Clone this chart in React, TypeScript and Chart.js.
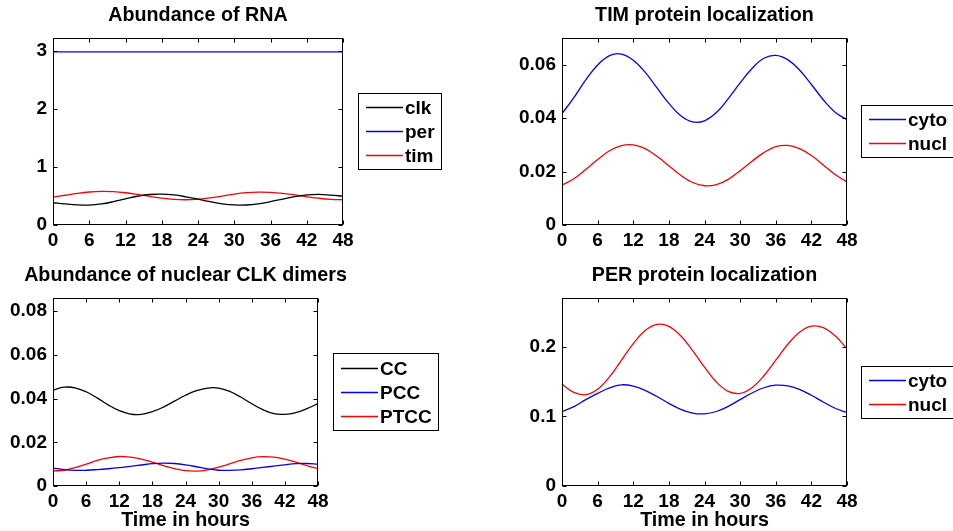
import React, { useEffect, useRef } from 'react';
import { Chart, registerables } from 'chart.js';

Chart.register(...registerables);

// ---------- data ----------
const hours = [0, 2, 4, 6, 8, 10, 12, 14, 16, 18, 20, 22, 24, 26, 28, 30, 32, 34, 36, 38, 40, 42, 44, 46, 48];
const xTicks = [0, 6, 12, 18, 24, 30, 36, 42, 48];

const rnaClk = [0.383, 0.362, 0.346, 0.343, 0.363, 0.402, 0.451, 0.495, 0.525, 0.531, 0.517, 0.485, 0.444, 0.401, 0.365, 0.345, 0.344, 0.365, 0.402, 0.447, 0.489, 0.518, 0.527, 0.515, 0.497];
const rnaPer = [2.98, 2.98, 2.98, 2.98, 2.98, 2.98, 2.98, 2.98, 2.98, 2.98, 2.98, 2.98, 2.98, 2.98, 2.98, 2.98, 2.98, 2.98, 2.98, 2.98, 2.98, 2.98, 2.98, 2.98, 2.98];
const rnaTim = [0.480, 0.512, 0.544, 0.568, 0.579, 0.574, 0.555, 0.526, 0.493, 0.463, 0.442, 0.435, 0.444, 0.468, 0.499, 0.532, 0.556, 0.567, 0.562, 0.545, 0.518, 0.488, 0.461, 0.442, 0.435];
const rnaYTicks = [0, 1, 2, 3];
const rnaYLabels = ['0', '1', '2', '3'];

const timCyto = [0.0417, 0.0477, 0.0543, 0.0599, 0.0634, 0.0640, 0.0617, 0.0572, 0.0513, 0.0455, 0.0409, 0.0386, 0.0390, 0.0421, 0.0473, 0.0532, 0.0586, 0.0624, 0.0635, 0.0619, 0.0580, 0.0526, 0.0469, 0.0422, 0.0394];
const timNucl = [0.0149, 0.0173, 0.0208, 0.0245, 0.0278, 0.0297, 0.0300, 0.0286, 0.0257, 0.0222, 0.0186, 0.0159, 0.0147, 0.0151, 0.0171, 0.0203, 0.0239, 0.0271, 0.0293, 0.0298, 0.0286, 0.0260, 0.0225, 0.0189, 0.0161];
const timYTicks = [0, 0.02, 0.04, 0.06];
const timYLabels = ['0', '0.02', '0.04', '0.06'];

const dimCC = [0.0438, 0.0452, 0.0449, 0.0431, 0.0403, 0.0371, 0.0345, 0.0329, 0.0328, 0.0340, 0.0361, 0.0388, 0.0415, 0.0436, 0.0448, 0.0448, 0.0433, 0.0407, 0.0376, 0.0349, 0.0331, 0.0328, 0.0336, 0.0354, 0.0377];
const dimPCC = [0.0082, 0.0075, 0.00715, 0.0072, 0.0075, 0.0079, 0.0084, 0.0090, 0.0096, 0.0102, 0.0105, 0.0103, 0.0097, 0.0088, 0.0078, 0.0072, 0.00715, 0.0074, 0.0079, 0.0085, 0.0091, 0.0097, 0.0102, 0.0103, 0.0100];
const dimPTCC = [0.0069, 0.0072, 0.0084, 0.0100, 0.0117, 0.0129, 0.0135, 0.0132, 0.0123, 0.0109, 0.0093, 0.0079, 0.0070, 0.0068, 0.0074, 0.0086, 0.0101, 0.0117, 0.0129, 0.0134, 0.0132, 0.0123, 0.0109, 0.0093, 0.0079];
const dimYTicks = [0, 0.02, 0.04, 0.06, 0.08];
const dimYLabels = ['0', '0.02', '0.04', '0.06', '0.08'];

const perCyto = [0.107, 0.114, 0.124, 0.133, 0.141, 0.1453, 0.1435, 0.1374, 0.1285, 0.1187, 0.1101, 0.1047, 0.1036, 0.1070, 0.1144, 0.1240, 0.1336, 0.1411, 0.1448, 0.1439, 0.1387, 0.1303, 0.1206, 0.1117, 0.1055];
const perNucl = [0.1463, 0.1344, 0.1311, 0.1389, 0.1567, 0.1805, 0.2045, 0.2232, 0.2321, 0.2293, 0.2157, 0.1945, 0.1706, 0.1494, 0.1359, 0.1330, 0.1411, 0.1583, 0.1807, 0.2032, 0.2208, 0.2295, 0.2275, 0.2157, 0.1970];
const perYTicks = [0, 0.1, 0.2];
const perYLabels = ['0', '0.1', '0.2'];

// ---------- layout / style ----------
const W = 953;
const H = 531;
const Y_W = 50;
const X_H = 30;
const FONT = "'Liberation Sans', Arial, Helvetica, sans-serif";
const FONT_SIZE = 19;
const TITLE_SIZE = 19.7;
const BLACK = '#000000';
const BLUE = '#0000ff';
const RED = '#ff0000';

const matlabPlugin = {
  id: 'matlabAxes',
  afterDraw(chart: any) {
    const spec = chart.$spec;
    if (!spec) return;
    const { ctx, chartArea: a, scales } = chart;
    const line = (x1: number, y1: number, x2: number, y2: number) => {
      ctx.beginPath();
      ctx.moveTo(x1, y1);
      ctx.lineTo(x2, y2);
      ctx.stroke();
    };
    ctx.save();
    ctx.strokeStyle = '#000000';
    ctx.lineWidth = 1;
    const L = Math.round(a.left) + 0.5;
    const R = Math.round(a.right) - 0.5;
    const T = Math.round(a.top) + 0.5;
    const B = Math.round(a.bottom) - 0.5;
    ctx.strokeRect(L, T, R - L, B - T);
    const tl = 4;
    scales.x.ticks.forEach((t: any) => {
      const px = Math.round(scales.x.getPixelForValue(t.value)) + 0.5;
      line(px, B, px, B - tl);
      line(px, T, px, T + tl);
    });
    scales.y.ticks.forEach((t: any) => {
      const py = Math.round(scales.y.getPixelForValue(t.value)) + 0.5;
      line(L, py, L + tl, py);
      line(R, py, R - tl, py);
    });
    ctx.fillStyle = '#000000';
    ctx.font = `bold ${TITLE_SIZE}px ${FONT}`;
    ctx.textAlign = 'center';
    ctx.textBaseline = 'middle';
    const cx = (a.left + a.right) / 2;
    ctx.fillText(spec.title, cx, a.top - 22);
    if (spec.xlabel) ctx.fillText(spec.xlabel, cx, a.bottom + 35);

    const lg = spec.legend;
    const lx = lg.x - spec.offset.x;
    const ly = lg.y - spec.offset.y;
    ctx.fillStyle = '#ffffff';
    ctx.fillRect(lx, ly, lg.w, lg.h);
    ctx.strokeStyle = '#000000';
    ctx.lineWidth = 1;
    ctx.strokeRect(lx + 0.5, ly + 0.5, lg.w, lg.h);
    const items = spec.series;
    const gap = 24;
    const y0 = ly + (lg.h - gap * (items.length - 1)) / 2;
    ctx.font = `bold ${FONT_SIZE}px ${FONT}`;
    ctx.textAlign = 'left';
    items.forEach((s: any, i: number) => {
      const yy = Math.round(y0 + gap * i) + 0.5;
      ctx.strokeStyle = s.color;
      ctx.lineWidth = 1.3;
      line(lx + 8, yy, lx + 45, yy);
      ctx.fillStyle = '#000000';
      ctx.fillText(s.label, lx + 47, yy + 1);
    });
    ctx.restore();
  },
};

function makeConfig(p: any) {
  const tickFont = { family: FONT, size: FONT_SIZE, weight: 'bold' as const };
  const area = {
    left: p.area.left - p.offset.x,
    right: p.area.right - p.offset.x,
    top: p.area.top - p.offset.y,
    bottom: p.area.bottom - p.offset.y,
  };
  return {
    type: 'line' as const,
    data: {
      datasets: p.series.map((s: any) => ({
        label: s.label,
        data: hours.map((h, i) => ({ x: h, y: s.values[i] })),
        borderColor: s.color,
        backgroundColor: s.color,
        borderWidth: 1.3,
        pointRadius: 0,
        tension: 0.4,
        fill: false,
      })),
    },
    options: {
      responsive: false,
      animation: false,
      devicePixelRatio: 1,
      events: [],
      layout: {
        padding: {
          left: area.left - Y_W,
          right: p.size.w - area.right,
          top: area.top,
          bottom: p.size.h - area.bottom - X_H,
        },
      },
      plugins: {
        legend: { display: false },
        tooltip: { enabled: false },
      },
      scales: {
        x: {
          type: 'linear',
          min: 0,
          max: 48,
          afterBuildTicks: (s: any) => {
            s.ticks = xTicks.map((v) => ({ value: v }));
          },
          afterFit: (s: any) => {
            s.height = X_H;
          },
          grid: { display: false, drawTicks: false },
          border: { display: false },
          ticks: {
            font: tickFont,
            color: '#000',
            padding: 4,
            maxRotation: 0,
            autoSkip: false,
            callback: (v: any) => String(v),
          },
        },
        y: {
          type: 'linear',
          min: 0,
          max: p.yMax,
          afterBuildTicks: (s: any) => {
            s.ticks = p.yTicks.map((v: number) => ({ value: v }));
          },
          afterFit: (s: any) => {
            s.width = Y_W;
          },
          grid: { display: false, drawTicks: false },
          border: { display: false },
          ticks: {
            font: tickFont,
            color: '#000',
            padding: 6,
            autoSkip: false,
            callback: (_v: any, i: number) => p.yLabels[i],
          },
        },
      },
    },
    plugins: [matlabPlugin],
  };
}

const panels = [
  {
    title: 'Abundance of RNA',
    offset: { x: 0, y: 0 },
    size: { w: 476, h: 262 },
    area: { left: 53, right: 343, top: 38, bottom: 225 },
    yMax: 3.22,
    yTicks: rnaYTicks,
    yLabels: rnaYLabels,
    legend: { x: 358, y: 93, w: 83, h: 76 },
    series: [
      { label: 'clk', values: rnaClk, color: BLACK },
      { label: 'per', values: rnaPer, color: BLUE },
      { label: 'tim', values: rnaTim, color: RED },
    ],
  },
  {
    title: 'TIM protein localization',
    offset: { x: 476, y: 0 },
    size: { w: 477, h: 262 },
    area: { left: 562, right: 847, top: 38, bottom: 225 },
    yMax: 0.07,
    yTicks: timYTicks,
    yLabels: timYLabels,
    legend: { x: 861, y: 105, w: 110, h: 52 },
    series: [
      { label: 'cyto', values: timCyto, color: BLUE },
      { label: 'nucl', values: timNucl, color: RED },
    ],
  },
  {
    title: 'Abundance of nuclear CLK dimers',
    xlabel: 'Time in hours',
    offset: { x: 0, y: 262 },
    size: { w: 476, h: 269 },
    area: { left: 53, right: 318, top: 298, bottom: 486 },
    yMax: 0.086,
    yTicks: dimYTicks,
    yLabels: dimYLabels,
    legend: { x: 333, y: 353, w: 105, h: 77 },
    series: [
      { label: 'CC', values: dimCC, color: BLACK },
      { label: 'PCC', values: dimPCC, color: BLUE },
      { label: 'PTCC', values: dimPTCC, color: RED },
    ],
  },
  {
    title: 'PER protein localization',
    xlabel: 'Time in hours',
    offset: { x: 476, y: 262 },
    size: { w: 477, h: 269 },
    area: { left: 562, right: 847, top: 298, bottom: 486 },
    yMax: 0.27,
    yTicks: perYTicks,
    yLabels: perYLabels,
    legend: { x: 861, y: 366, w: 110, h: 52 },
    series: [
      { label: 'cyto', values: perCyto, color: BLUE },
      { label: 'nucl', values: perNucl, color: RED },
    ],
  },
];

function Panel({ spec }: { spec: any }) {
  const ref = useRef<HTMLCanvasElement | null>(null);
  useEffect(() => {
    if (!ref.current) return;
    const chart: any = new Chart(ref.current, makeConfig(spec) as any);
    chart.$spec = spec;
    chart.draw();
    return () => chart.destroy();
  }, [spec]);
  return (
    <canvas
      ref={ref}
      width={spec.size.w}
      height={spec.size.h}
      style={{
        position: 'absolute',
        left: spec.offset.x,
        top: spec.offset.y,
        width: spec.size.w,
        height: spec.size.h,
      }}
    />
  );
}

export default function App() {
  return (
    <div
      style={{
        position: 'fixed',
        left: 0,
        top: 0,
        width: W,
        height: H,
        background: '#ffffff',
        overflow: 'hidden',
      }}
    >
      {panels.map((p, i) => (
        <Panel key={i} spec={p} />
      ))}
    </div>
  );
}
